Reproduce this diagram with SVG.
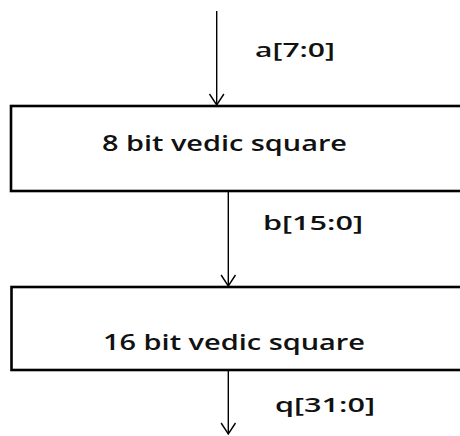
<svg xmlns="http://www.w3.org/2000/svg" width="460" height="436" viewBox="0 0 460 436">
  <defs>
    <style>
      .box { fill: #ffffff; stroke: #000000; stroke-width: 2.6; }
      .wire { fill: none; stroke: #000000; stroke-width: 1.4; }
      .head { fill: none; stroke: #000000; stroke-width: 1.4; stroke-linejoin: miter; }
      .lbl { font-family: "Open Sans", "Liberation Sans", sans-serif; font-weight: 600; fill: #111111; }
      .sig { font-size: 20px; }
      .name { font-size: 22px; }
    </style>
  </defs>
  <rect width="460" height="436" fill="#ffffff"/>

  <!-- signal wires with open arrowheads -->
  <g id="connectors">
    <line class="wire" x1="216.7" y1="11" x2="216.7" y2="105"/>
    <polyline class="head" points="209.5,94 216.7,105 223.9,94"/>
    <line class="wire" x1="228.3" y1="192" x2="228.3" y2="286"/>
    <polyline class="head" points="221.1,275 228.3,286 235.5,275"/>
    <line class="wire" x1="228.3" y1="371" x2="228.3" y2="434"/>
    <polyline class="head" points="221.1,423 228.3,434 235.5,423"/>
    <text class="lbl sig" x="255" y="57" textLength="80" lengthAdjust="spacingAndGlyphs">a[7:0]</text>
    <text class="lbl sig" x="263" y="230" textLength="100" lengthAdjust="spacingAndGlyphs">b[15:0]</text>
    <text class="lbl sig" x="275" y="412" textLength="100" lengthAdjust="spacingAndGlyphs">q[31:0]</text>
  </g>

  <g id="square8">
    <rect class="box" x="11" y="106" width="470" height="85"/>
    <text class="lbl name" x="102" y="150.5" textLength="245" lengthAdjust="spacingAndGlyphs">8 bit vedic square</text>
  </g>

  <g id="square16">
    <rect class="box" x="11.5" y="287" width="470" height="83"/>
    <text class="lbl name" x="103" y="349.5" textLength="262" lengthAdjust="spacingAndGlyphs">16 bit vedic square</text>
  </g>
</svg>
